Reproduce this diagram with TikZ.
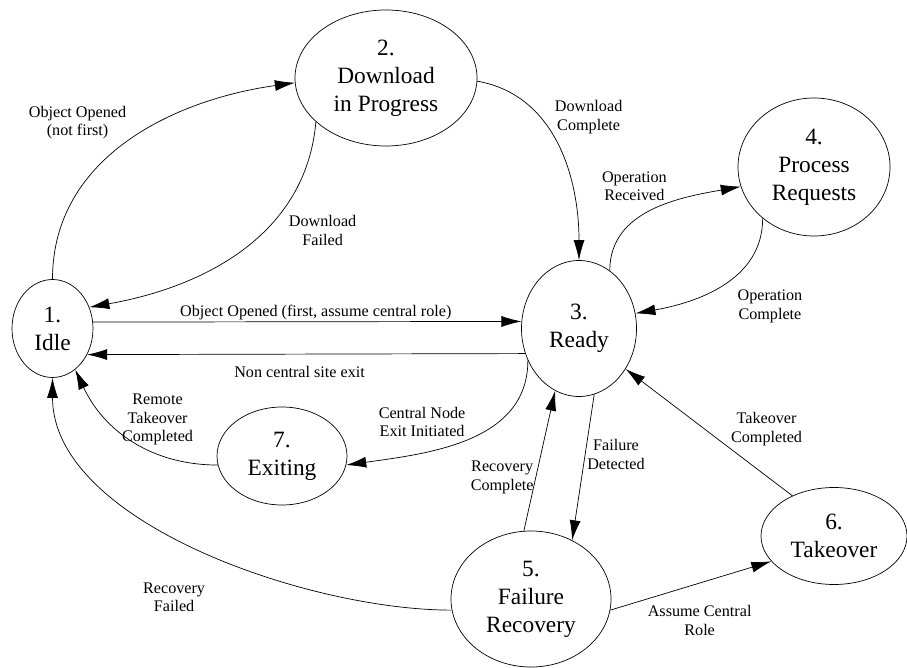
\documentclass[tikz,border=0pt]{standalone}
\usepackage{fontspec}
\setmainfont{Liberation Serif}
\usepackage{tikz}
\usetikzlibrary{automata, positioning, arrows.meta, shapes.geometric}
\tikzset{
->, % makes the edges directed
>={Latex[length=4mm,width=2.2mm]}, % long filled arrow heads
line width=0.6pt, % thin outlines everywhere
every state/.style={ellipse, draw, inner sep=0pt, align=center, font=\fontsize{13.3}{15.9}\selectfont}, % states are ellipses here
cond/.style={font=\fontsize{9.2}{10.6}\selectfont, align=center, inner sep=1pt}, % text on the transitions
}

\begin{document}
\begin{tikzpicture}
                \useasboundingbox (0,0) rectangle (18.14,13.34);
                \node[state, minimum width=1.62cm, minimum height=1.96cm] (s1) at (1.05,6.77) {1.\\Idle};
                \node[state, minimum width=3.64cm, minimum height=2.72cm] (s2) at (7.72,11.78) {2.\\Download\\in Progress};
                \node[state, minimum width=2.3cm, minimum height=2.72cm] (s3) at (11.58,6.77) {3.\\Ready};
                \node[state, minimum width=3.04cm, minimum height=2.76cm] (s4) at (16.28,10.0) {4.\\Process\\Requests};
                \node[state, minimum width=3.2cm, minimum height=2.72cm] (s5) at (10.62,1.36) {5.\\Failure\\Recovery};
                \node[state, minimum width=2.92cm, minimum height=1.94cm] (s6) at (16.68,2.62) {6.\\Takeover};
                \node[state, minimum width=2.6cm, minimum height=1.96cm] (s7) at (5.64,4.22) {7.\\Exiting};
                \path
                    (s1.90) edge[out=90, in=188] node[cond, above left] {Object Opened\\(not first)} (s2.183)
                    (s2.212) edge[out=-95, in=10] node[cond, pos=0.4, right=4.5mm] {Download\\Failed} (s1.30)
                    (s2.-2) edge[out=-10, in=90] node[cond, pos=0.45, above right] {Download\\Complete} (s3.90)
                    (s3.62) edge[out=90, in=190] node[cond, pos=0.6, above left] {Operation\\Received} (s4.195)
                    (s4.225) edge[out=-90, in=10] node[cond, pos=0.4, below right=2.5mm and 0mm] {Operation\\Complete} (s3.15)
                    (s1.9.2) edge node[cond, pos=0.52, above] {Object Opened (first, assume central role)} (s3.173.5)
                    (s3.205.4) edge node[cond, pos=0.515, below=2mm] {Non central site exit} (s1.323.6)
                    (s3.212) edge[out=-90, in=8] node[cond, above left] {Central Node\\Exit Initiated} (s7.352)
                    (s7.188) edge[out=180, in=-65] node[cond, pos=0.55, anchor=south west, xshift=-1mm, yshift=-2.5mm] {Remote\\Takeover\\Completed} (s1.299)
                    (s5.188) edge[out=180, in=-90, looseness=0.8] node[cond, pos=0.55, below=9mm] {Recovery\\Failed} (s1.270)
                    (s5.96) edge node[cond, pos=0.38, left] {Recovery\\Complete} (s3.249)
                    (s3.283) edge node[cond, pos=0.41, right] {Failure\\Detected} (s5.55.5)
                    (s6.136) edge node[cond, pos=0.38, above right] {Takeover\\Completed} (s3.319)
                    (s5.352) edge node[cond, pos=0.555, below=4mm] {Assume Central\\Role} (s6.202)
                    ;
                \end{tikzpicture}
\end{document}
